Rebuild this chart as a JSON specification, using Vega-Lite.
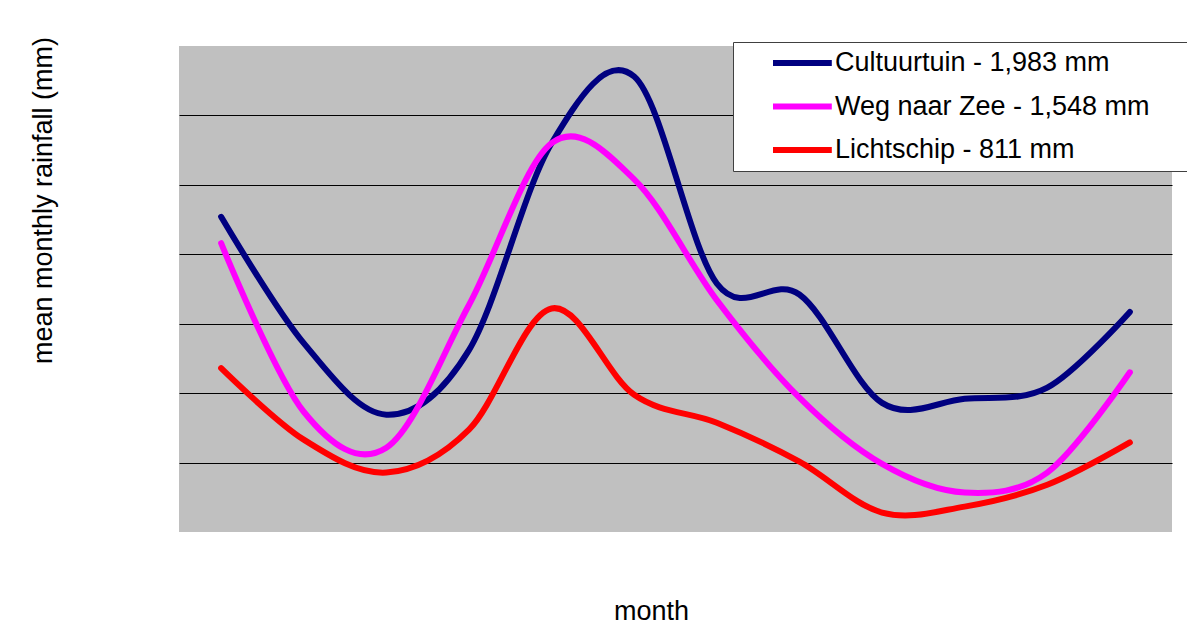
{
  "$schema": "https://vega.github.io/schema/vega-lite/v6.json",
  "autosize": {"type": "none"},
  "padding": {"left": 179, "top": 46, "right": 15, "bottom": 99},
  "width": 993,
  "height": 486,
  "background": "white",
  "config": {
    "view": {"fill": "#C0C0C0", "stroke": null},
    "font": "Liberation Sans"
  },
  "data": {
    "values": [
      {"month": 1, "series": "Cultuurtuin - 1,983 mm", "rain": 227},
      {"month": 2, "series": "Cultuurtuin - 1,983 mm", "rain": 136},
      {"month": 3, "series": "Cultuurtuin - 1,983 mm", "rain": 84.5},
      {"month": 4, "series": "Cultuurtuin - 1,983 mm", "rain": 131},
      {"month": 5, "series": "Cultuurtuin - 1,983 mm", "rain": 280},
      {"month": 6, "series": "Cultuurtuin - 1,983 mm", "rain": 328},
      {"month": 7, "series": "Cultuurtuin - 1,983 mm", "rain": 179},
      {"month": 8, "series": "Cultuurtuin - 1,983 mm", "rain": 171},
      {"month": 9, "series": "Cultuurtuin - 1,983 mm", "rain": 93},
      {"month": 10, "series": "Cultuurtuin - 1,983 mm", "rain": 96},
      {"month": 11, "series": "Cultuurtuin - 1,983 mm", "rain": 104},
      {"month": 12, "series": "Cultuurtuin - 1,983 mm", "rain": 158.5},
      {"month": 1, "series": "Weg naar Zee - 1,548 mm", "rain": 208},
      {"month": 2, "series": "Weg naar Zee - 1,548 mm", "rain": 86.6},
      {"month": 3, "series": "Weg naar Zee - 1,548 mm", "rain": 60.7},
      {"month": 4, "series": "Weg naar Zee - 1,548 mm", "rain": 163.5},
      {"month": 5, "series": "Weg naar Zee - 1,548 mm", "rain": 280},
      {"month": 6, "series": "Weg naar Zee - 1,548 mm", "rain": 254},
      {"month": 7, "series": "Weg naar Zee - 1,548 mm", "rain": 167},
      {"month": 8, "series": "Weg naar Zee - 1,548 mm", "rain": 96.7},
      {"month": 9, "series": "Weg naar Zee - 1,548 mm", "rain": 49},
      {"month": 10, "series": "Weg naar Zee - 1,548 mm", "rain": 28.4},
      {"month": 11, "series": "Weg naar Zee - 1,548 mm", "rain": 42.8},
      {"month": 12, "series": "Weg naar Zee - 1,548 mm", "rain": 115},
      {"month": 1, "series": "Lichtschip - 811 mm", "rain": 118},
      {"month": 2, "series": "Lichtschip - 811 mm", "rain": 66.5},
      {"month": 3, "series": "Lichtschip - 811 mm", "rain": 42.8},
      {"month": 4, "series": "Lichtschip - 811 mm", "rain": 73.7},
      {"month": 5, "series": "Lichtschip - 811 mm", "rain": 161},
      {"month": 6, "series": "Lichtschip - 811 mm", "rain": 98.8},
      {"month": 7, "series": "Lichtschip - 811 mm", "rain": 78.7},
      {"month": 8, "series": "Lichtschip - 811 mm", "rain": 50.7},
      {"month": 9, "series": "Lichtschip - 811 mm", "rain": 14},
      {"month": 10, "series": "Lichtschip - 811 mm", "rain": 18.3},
      {"month": 11, "series": "Lichtschip - 811 mm", "rain": 34},
      {"month": 12, "series": "Lichtschip - 811 mm", "rain": 64.5}
    ]
  },
  "mark": {
    "type": "line",
    "interpolate": "cardinal",
    "tension": 0,
    "strokeWidth": 6,
    "strokeCap": "round",
    "strokeJoin": "round"
  },
  "encoding": {
    "x": {
      "field": "month",
      "type": "ordinal",
      "scale": {"type": "point", "padding": 0.51},
      "axis": {
        "title": "month",
        "labels": false,
        "ticks": false,
        "domain": false,
        "grid": false,
        "titleFont": "Liberation Sans",
        "titleFontSize": 27,
        "titleFontWeight": "normal",
        "titleColor": "black",
        "titleX": 472,
        "titleY": 87,
        "titleAlign": "center",
        "titleBaseline": "alphabetic"
      }
    },
    "y": {
      "field": "rain",
      "type": "quantitative",
      "scale": {"domain": [0, 350], "nice": false, "zero": true},
      "axis": {
        "title": "mean monthly rainfall (mm)",
        "values": [50, 100, 150, 200, 250, 300],
        "labels": false,
        "ticks": false,
        "domain": false,
        "grid": true,
        "gridColor": "black",
        "gridWidth": 1,
        "gridOpacity": 1,
        "titleFont": "Liberation Sans",
        "titleFontSize": 27,
        "titleFontWeight": "normal",
        "titleColor": "black",
        "titleAngle": 270,
        "titleX": -128,
        "titleY": 154,
        "titleAlign": "center",
        "titleBaseline": "alphabetic"
      }
    },
    "color": {
      "field": "series",
      "type": "nominal",
      "scale": {
        "domain": ["Cultuurtuin - 1,983 mm", "Weg naar Zee - 1,548 mm", "Lichtschip - 811 mm"],
        "range": ["#000080", "#FF00FF", "#FF0000"]
      },
      "legend": {
        "title": "\u00a0",
        "titleOrient": "right",
        "titlePadding": 45,
        "titleFontSize": 27,
        "orient": "none",
        "legendX": 554,
        "legendY": -4,
        "fillColor": "white",
        "strokeColor": "#404040",
        "padding": 7.5,
        "rowPadding": 15.5,
        "symbolType": "M-2.8,0H2.8",
        "symbolSize": 441,
        "symbolStrokeWidth": 6,
        "symbolOffset": 48.4,
        "symbolOpacity": 1,
        "labelOffset": 19,
        "labelFont": "Liberation Sans",
        "labelFontSize": 27,
        "labelColor": "black",
        "labelLimit": 0,
        "labelBaseline": "middle"
      }
    }
  }
}
